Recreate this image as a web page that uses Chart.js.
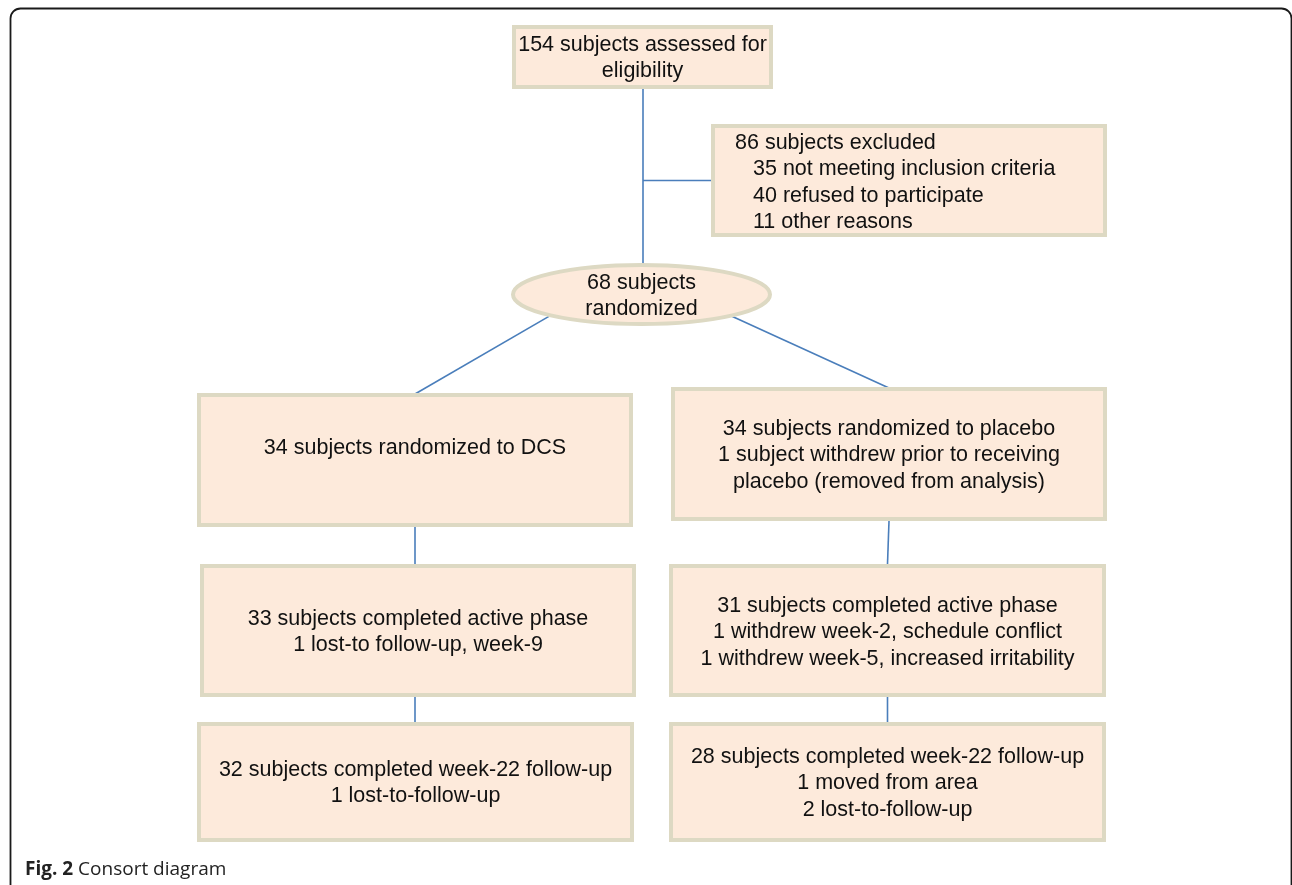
<!DOCTYPE html>
<html>
<head>
<meta charset="utf-8">
<title>Consort diagram</title>
<script src="https://cdn.jsdelivr.net/npm/chart.js@4.4.0/dist/chart.umd.min.js"></script>
<style>
    html, body { margin: 0; padding: 0; background: #fff; }
    #wrap { width: 1292px; height: 885px; }
</style>
</head>
<body>
<div id="wrap"><canvas id="consort" width="1292" height="885"></canvas></div>
<script>
// Box texts, one array per box
const assessedText = ['154 subjects assessed for', 'eligibility'];
const excludedText = ['86 subjects excluded', '35 not meeting inclusion criteria', '40 refused to participate', '11 other reasons'];
const randomizedText = ['68 subjects', 'randomized'];
const dcsText = ['34 subjects randomized to DCS'];
const placeboText = ['34 subjects randomized to placebo', '1 subject withdrew prior to receiving', 'placebo (removed from analysis)'];
const dcsActiveText = ['33 subjects completed active phase', '1 lost-to follow-up, week-9'];
const placeboActiveText = ['31 subjects completed active phase', '1 withdrew week-2, schedule conflict', '1 withdrew week-5, increased irritability'];
const dcsWeek22Text = ['32 subjects completed week-22 follow-up', '1 lost-to-follow-up'];
const placeboWeek22Text = ['28 subjects completed week-22 follow-up', '1 moved from area', '2 lost-to-follow-up'];
const captionBold = 'Fig. 2';
const captionText = 'Consort diagram';

// Layout of the diagram, in page units (x 0..1292, y 0..885 from the top)
const layout = {
    assessed:      { shape: 'rect', x0: 512, y0: 25, x1: 773, y1: 89, textY: 45, lines: assessedText },
    excluded:      { shape: 'rect', x0: 711, y0: 124, x1: 1107, y1: 237, textY: 143, lines: excludedText, textX: 735, indentX: 753 },
    randomized:    { shape: 'ellipse', cx: 641.5, cy: 294.5, rx: 130.5, ry: 31.5, textY: 283, lines: randomizedText },
    dcs:           { shape: 'rect', x0: 197, y0: 393, x1: 633, y1: 527, textY: 448, lines: dcsText },
    placebo:       { shape: 'rect', x0: 671, y0: 387, x1: 1107, y1: 521, textY: 429, lines: placeboText },
    dcsActive:     { shape: 'rect', x0: 200, y0: 564, x1: 636, y1: 697, textY: 619, lines: dcsActiveText },
    placeboActive: { shape: 'rect', x0: 669, y0: 564, x1: 1106, y1: 697, textY: 606, lines: placeboActiveText },
    dcsWeek22:     { shape: 'rect', x0: 197, y0: 722, x1: 634, y1: 842, textY: 770, lines: dcsWeek22Text },
    placeboWeek22: { shape: 'rect', x0: 669, y0: 722, x1: 1106, y1: 842, textY: 757, lines: placeboWeek22Text },
};

const lineGap = 26.3;
const boxFill = '#FDEADB';
const boxBorder = '#DDD9C3';
const linkColor = '#4A7EBB';

function midX(b) { return b.shape === 'ellipse' ? b.cx : (b.x0 + b.x1) / 2; }
function boxTop(b) { return b.shape === 'ellipse' ? b.cy - b.ry : b.y0; }
function boxBottom(b) { return b.shape === 'ellipse' ? b.cy + b.ry : b.y1; }

// point on the ellipse edge at a given angle (degrees, 0 = right, 90 = down)
function onEllipse(e, deg) {
    const a = deg * Math.PI / 180;
    return { x: e.cx + (e.rx - 2) * Math.cos(a), y: e.cy + (e.ry - 2) * Math.sin(a) };
}

const L = layout;
const stemX = midX(L.assessed) + 0.5;
const branchY = (L.excluded.y0 + L.excluded.y1) / 2;

// Connectors, built from the layout
const links = [
    [{ x: stemX, y: boxBottom(L.assessed) }, { x: stemX, y: boxTop(L.randomized) + 2 }],
    [{ x: stemX, y: branchY }, { x: L.excluded.x0 + 1, y: branchY }],
    [onEllipse(L.randomized, 135), { x: midX(L.dcs), y: boxTop(L.dcs) + 1 }],
    [onEllipse(L.randomized, 46), { x: midX(L.placebo), y: boxTop(L.placebo) + 1 }],
    [{ x: midX(L.dcs), y: boxBottom(L.dcs) }, { x: midX(L.dcsActive) - 3, y: boxTop(L.dcsActive) }],
    [{ x: midX(L.placebo), y: boxBottom(L.placebo) }, { x: midX(L.placeboActive), y: boxTop(L.placeboActive) }],
    [{ x: midX(L.dcsActive) - 3, y: boxBottom(L.dcsActive) }, { x: midX(L.dcsWeek22) - 0.5, y: boxTop(L.dcsWeek22) }],
    [{ x: midX(L.placeboActive), y: boxBottom(L.placeboActive) }, { x: midX(L.placeboWeek22), y: boxTop(L.placeboWeek22) }],
];

// Draws the frame, boxes, texts and caption on top of the connectors
const diagramPlugin = {
    id: 'diagram',
    afterDatasetsDraw(chart) {
        const ctx = chart.ctx;
        const sx = v => chart.scales.x.getPixelForValue(v);
        const sy = v => chart.scales.y.getPixelForValue(v);

        ctx.save();

        // outer frame with rounded top corners, open at the bottom
        const fx0 = sx(10.5), fx1 = sx(1291.5), fy0 = sy(8.5), fyb = sy(900), r = 10;
        ctx.beginPath();
        ctx.moveTo(fx0, fyb);
        ctx.lineTo(fx0, fy0 + r);
        ctx.arcTo(fx0, fy0, fx0 + r, fy0, r);
        ctx.lineTo(fx1 - r, fy0);
        ctx.arcTo(fx1, fy0, fx1, fy0 + r, r);
        ctx.lineTo(fx1, fyb);
        ctx.strokeStyle = '#1a1a1a';
        ctx.lineWidth = 1.8;
        ctx.stroke();

        Object.values(layout).forEach(b => {
            ctx.beginPath();
            if (b.shape === 'ellipse') {
                ctx.ellipse(sx(b.cx), sy(b.cy), b.rx - 2, b.ry - 2, 0, 0, Math.PI * 2);
            } else {
                ctx.rect(sx(b.x0 + 2), sy(b.y0 + 2), sx(b.x1 - 2) - sx(b.x0 + 2), sy(b.y1 - 2) - sy(b.y0 + 2));
            }
            ctx.fillStyle = boxFill;
            ctx.fill();
            ctx.strokeStyle = boxBorder;
            ctx.lineWidth = 4;
            ctx.stroke();

            ctx.fillStyle = '#111';
            ctx.font = '21.5px "Liberation Sans", Arial, sans-serif';
            ctx.textBaseline = 'middle';
            b.lines.forEach((line, i) => {
                const y = sy(b.textY + i * lineGap);
                if (b.textX !== undefined) {
                    ctx.textAlign = 'left';
                    ctx.fillText(line, sx(i === 0 ? b.textX : b.indentX), y);
                } else {
                    ctx.textAlign = 'center';
                    ctx.fillText(line, sx(midX(b)), y);
                }
            });
        });

        // caption
        ctx.textAlign = 'left';
        ctx.textBaseline = 'alphabetic';
        ctx.fillStyle = '#222';
        ctx.font = 'bold 19px "Open Sans", sans-serif';
        const cx = sx(25), cy = sy(875);
        ctx.fillText(captionBold, cx, cy);
        const w = ctx.measureText(captionBold + ' ').width;
        ctx.font = '19px "Open Sans", sans-serif';
        ctx.fillText(captionText, cx + w, cy);

        ctx.restore();
    }
};

new Chart(document.getElementById('consort'), {
    type: 'scatter',
    data: {
        datasets: links.map(pts => ({
            data: pts,
            showLine: true,
            borderColor: linkColor,
            borderWidth: 1.6,
            pointRadius: 0,
            tension: 0,
            fill: false,
        })),
    },
    options: {
        responsive: false,
        animation: false,
        layout: { padding: 0 },
        plugins: { legend: { display: false }, tooltip: { enabled: false } },
        scales: {
            x: { type: 'linear', min: 0, max: 1292, display: false },
            y: { type: 'linear', min: 0, max: 885, reverse: true, display: false },
        },
    },
    plugins: [diagramPlugin],
});
</script>
</body>
</html>
